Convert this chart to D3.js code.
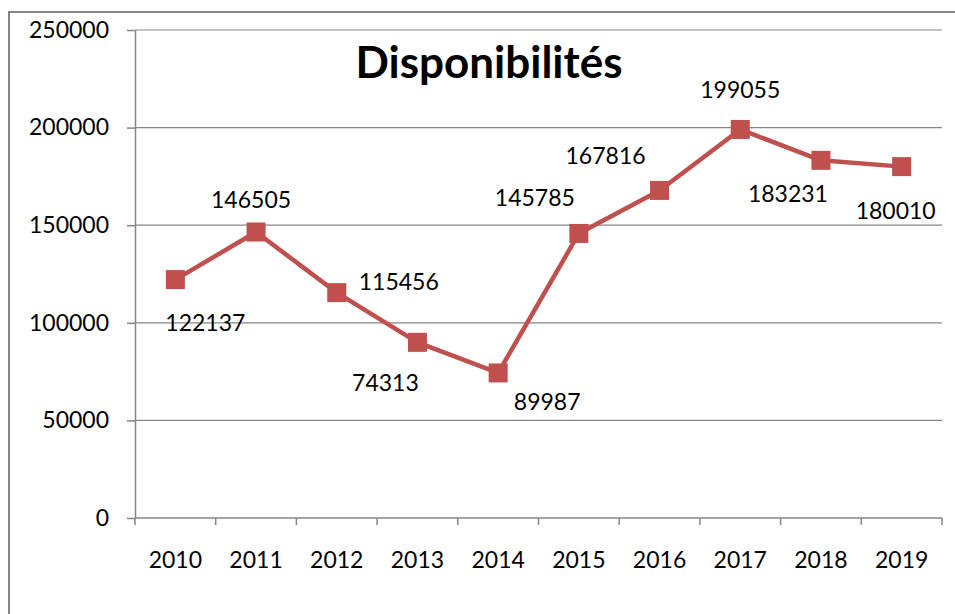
<!DOCTYPE html>
<html>
<head>
<meta charset="utf-8">
<script src="https://cdn.jsdelivr.net/npm/d3@7"></script>
<style>
	body { margin: 0; background: #fff; }
	text { font-family: Lato, 'Open Sans', sans-serif; fill: #000; }
</style>
</head>
<body>
<svg id="chart"></svg>
<script>
const years = ['2010', '2011', '2012', '2013', '2014', '2015', '2016', '2017', '2018', '2019'];
const values = [122137, 146505, 115456, 89987, 74313, 145785, 167816, 199055, 183231, 180010];
const labels = ['122137', '146505', '115456', '74313', '89987', '145785', '167816', '199055', '183231', '180010'];
const yTicks = [0, 50000, 100000, 150000, 200000, 250000];

// where Excel put each data label, relative to its point
const labelOffsets = [
	[30, 43], [-5, -32], [62, -11], [-32, 40], [49, 29],
	[-44, -36], [-54, -35], [0, -40], [-33, 33], [-6, 44],
];

const width = 955;
const height = 614;
const margin = { top: 30, right: 13, bottom: 96, left: 135 };
const innerW = width - margin.left - margin.right;
const innerH = height - margin.top - margin.bottom;
const red = '#c0504d';
const fontSize = '23px';

const svg = d3.select('#chart').attr('width', width).attr('height', height);

// outer chart frame
svg.append('rect')
	.attr('x', 9).attr('y', 12)
	.attr('width', 960).attr('height', 620)
	.attr('fill', 'none')
	.attr('stroke', '#868686')
	.attr('stroke-width', 2);

const g = svg.append('g').attr('transform', `translate(${margin.left},${margin.top})`);

const x = d3.scaleBand().domain(years).range([0, innerW]);
const y = d3.scaleLinear().domain([0, 250000]).range([innerH, 0]);

// gridlines
g.append('g')
	.selectAll('line')
	.data(yTicks.filter((d) => d > 0))
	.join('line')
	.attr('x1', 0).attr('x2', innerW)
	.attr('y1', (d) => y(d)).attr('y2', (d) => y(d))
	.attr('stroke', '#868686')
	.attr('stroke-width', 1.2);

const yAxis = d3.axisLeft(y).tickValues(yTicks).tickSize(8).tickSizeOuter(0).tickPadding(18).tickFormat(d3.format('d'));
const yAxisG = g.append('g').call(yAxis);

// x axis: ticks sit on band boundaries like Excel
const xAxisG = g.append('g').attr('transform', `translate(0,${innerH})`);
xAxisG.append('line')
	.attr('x1', 0).attr('x2', innerW)
	.attr('stroke', '#868686').attr('stroke-width', 1.5);
xAxisG.selectAll('.tk')
	.data(d3.range(years.length + 1))
	.join('line')
	.attr('class', 'tk')
	.attr('x1', (i) => i * x.step()).attr('x2', (i) => i * x.step())
	.attr('y1', 0).attr('y2', 7)
	.attr('stroke', '#868686').attr('stroke-width', 1.5);
xAxisG.selectAll('text')
	.data(years)
	.join('text')
	.attr('x', (d) => x(d) + x.bandwidth() / 2)
	.attr('y', 50)
	.attr('text-anchor', 'middle')
	.style('font-size', fontSize)
	.text((d) => d);

yAxisG.select('.domain').attr('stroke', '#868686').attr('stroke-width', 1.5);
yAxisG.selectAll('.tick line').attr('stroke', '#868686').attr('stroke-width', 1.5);
yAxisG.selectAll('.tick text').style('font-size', fontSize).attr('font-family', null);

const cx = (i) => x(years[i]) + x.bandwidth() / 2;

g.append('path')
	.datum(values)
	.attr('fill', 'none')
	.attr('stroke', red)
	.attr('stroke-width', 4.5)
	.attr('stroke-linejoin', 'round')
	.attr('d', d3.line().x((d, i) => cx(i)).y((d) => y(d)));

const sq = 19;
g.selectAll('.marker')
	.data(values)
	.join('rect')
	.attr('class', 'marker')
	.attr('x', (d, i) => cx(i) - sq / 2)
	.attr('y', (d) => y(d) - sq / 2)
	.attr('width', sq).attr('height', sq)
	.attr('fill', red);

g.selectAll('.dlabel')
	.data(values)
	.join('text')
	.attr('class', 'dlabel')
	.attr('x', (d, i) => cx(i) + labelOffsets[i][0])
	.attr('y', (d, i) => y(d) + labelOffsets[i][1])
	.attr('dy', '0.36em')
	.attr('text-anchor', 'middle')
	.style('font-size', fontSize)
	.text((d, i) => labels[i]);

svg.append('text')
	.attr('x', 489).attr('y', 78)
	.attr('text-anchor', 'middle')
	.style('font-size', '44px')
	.style('font-weight', 'bold')
	.text('Disponibilités');
</script>
</body>
</html>
